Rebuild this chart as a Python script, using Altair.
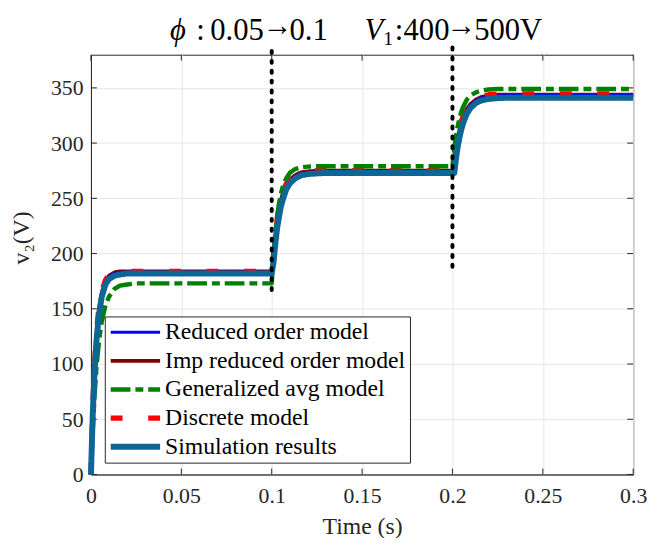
import altair as alt
import pandas as pd

# ---------------- data ----------------
time_s = [0, 0.001, 0.002, 0.003, 0.004, 0.005, 0.006, 0.008, 0.010, 0.013, 0.016, 0.020, 0.025, 0.030, 0.050, 0.075, 0.100,
          0.101, 0.102, 0.103, 0.104, 0.105, 0.106, 0.108, 0.110, 0.113, 0.116, 0.120, 0.125, 0.130, 0.150, 0.175, 0.200,
          0.201, 0.202, 0.203, 0.204, 0.205, 0.206, 0.208, 0.210, 0.213, 0.216, 0.220, 0.225, 0.230, 0.250, 0.275, 0.300]

reduced = [0, 58, 97, 124, 142, 154, 163, 174, 179, 182, 183, 183, 183, 183, 183, 183, 183,
           196, 214, 228, 238, 246, 252, 260.5, 266, 270, 272.5, 273.5, 274, 274, 274, 274, 274,
           279, 293, 303.5, 311.5, 317.5, 322.5, 329.5, 334.5, 338.5, 341, 342.3, 342.8, 343, 343, 343, 343]

imp_reduced = [0, 60, 99, 126, 144, 156, 165, 175, 180, 183, 184, 184, 184, 184, 184, 184, 184,
               198, 216, 230, 240, 248, 254, 262, 267, 271, 273.5, 274.5, 275, 275, 275, 275, 275,
               281, 295, 305, 313, 319, 324, 331, 335.5, 339.5, 341.8, 343.2, 343.8, 344, 344, 344, 344]

generalized = [0, 41, 72, 96, 114, 128, 139, 153, 161, 168, 171, 172, 173, 173, 173, 173, 173,
               199, 219, 234, 245, 253.6, 260, 268, 273, 276.5, 278, 278.7, 279, 279, 279, 279, 279,
               294.5, 306.5, 316, 323, 329, 333, 339.5, 343, 346, 347.7, 348.5, 349, 349, 349, 349, 349]

discrete = [0, 62, 101, 128, 145, 157, 166, 176, 181, 183.3, 184, 184, 184, 184, 184, 184, 184,
            199, 217, 231, 241, 249, 255, 263, 268, 272, 274, 275, 275, 275, 275, 275, 275,
            282, 296, 306, 314, 320, 325, 332, 336.5, 340.5, 342.5, 343.8, 344.2, 344.5, 344.5, 344.5, 344.5]

simulation = [0, 55, 93, 120, 138, 151, 161, 172, 177, 180, 181, 182, 182, 182, 182, 182, 182,
              192, 209, 223, 233, 242, 248, 258, 263.5, 268, 270.7, 272, 272.5, 273, 273, 273, 273,
              273, 286.6, 297.5, 306, 313, 318.5, 326.7, 331.8, 336.3, 338.6, 340, 340.7, 341, 341, 341, 341]

series_names = ["Reduced order model", "Imp reduced order model", "Generalized avg model",
                "Discrete model", "Simulation results"]
series_values = [reduced, imp_reduced, generalized, discrete, simulation]
series_colors = ["#0000FF", "#800000", "#008000", "#FF0000", "#0D6696"]

event_t = [0.1, 0.2]
event_lo = [167, 188]
event_hi = [387, 387]

x_ticks = [0, 0.05, 0.1, 0.15, 0.2, 0.25, 0.3]
y_ticks = [0, 50, 100, 150, 200, 250, 300, 350]

ann_y = 393
ann1_parts = ["\u03d5", ":", "0.05", "\u2192", "0.1"]
ann2_parts = ["V", "1", ":", "400", "\u2192", "500V"]

# ---------------- chart ----------------
FONT = "Liberation Serif"
W, H = 549, 425
INK = "#262626"

xenc = alt.X("t:Q", scale=alt.Scale(domain=[0, 0.3], nice=False, zero=False),
             axis=alt.Axis(values=x_ticks, format="~g", title="Time (s)",
                           labelFont=FONT, labelFontSize=22, titleFont=FONT, titleFontSize=24,
                           labelPadding=11, titlePadding=9))
yenc = alt.Y("v:Q", scale=alt.Scale(domain=[0, 380], nice=False, zero=False),
             axis=alt.Axis(values=y_ticks, title="v\u2082(V)", titleX=-70, titleY=185,
                           titleBaseline="middle",
                           labelFont=FONT, labelFontSize=22, titleFont=FONT, titleFontSize=24))

color_scale = alt.Scale(domain=series_names, range=series_colors)
dash_scale = alt.Scale(domain=series_names,
                       range=[[1, 0], [1, 0], [20, 5, 8, 5], [12, 26], [1, 0]])
width_scale = alt.Scale(domain=series_names, range=[3, 6, 4, 2.5, 5])

frames = {}
for name, vals in zip(series_names, series_values):
    frames[name] = pd.DataFrame({"t": time_s, "v": vals, "series": name})

draw_order = ["Imp reduced order model", "Reduced order model", "Discrete model",
              "Generalized avg model", "Simulation results"]

layers = []

# inward ticks on all four sides
xt = pd.DataFrame({"t": x_ticks})
yt = pd.DataFrame({"v": y_ticks})
tick_style = dict(color=INK, strokeWidth=1)
layers.append(alt.Chart(xt).mark_rule(**tick_style).encode(x=xenc, y=alt.value(H), y2=alt.value(H - 6)))
layers.append(alt.Chart(xt).mark_rule(**tick_style).encode(x=xenc, y=alt.value(0), y2=alt.value(6)))
layers.append(alt.Chart(yt).mark_rule(**tick_style).encode(y=yenc, x=alt.value(0), x2=alt.value(6)))
layers.append(alt.Chart(yt).mark_rule(**tick_style).encode(y=yenc, x=alt.value(W), x2=alt.value(W - 6)))

leg = alt.Legend(title=None)
for name in draw_order:
    layers.append(
        alt.Chart(frames[name]).mark_line(strokeCap="butt", strokeJoin="round").encode(
            x=xenc, y=yenc,
            color=alt.Color("series:N", scale=color_scale, legend=leg),
            strokeDash=alt.StrokeDash("series:N", scale=dash_scale, legend=leg),
            strokeWidth=alt.StrokeWidth("series:N", scale=width_scale, legend=leg),
        )
    )

# event lines (round dots)
ev = pd.DataFrame({"t": event_t, "v": event_lo, "v2": event_hi})
layers.append(
    alt.Chart(ev).mark_rule(color="black", strokeWidth=4, strokeDash=[2, 8], strokeCap="round",
                            clip=False).encode(
        x=xenc, y=yenc, y2="v2:Q"
    )
)

# annotations
def ann(text, t0, dx, align, size=31, style="normal", dy=0, weight="normal"):
    df = pd.DataFrame({"t": [t0], "v": [ann_y], "label": [text]})
    return alt.Chart(df).mark_text(
        font=FONT, fontSize=size, fontStyle=style, fontWeight=weight, align=align,
        baseline="alphabetic", dx=dx, dy=dy, color="black", clip=False
    ).encode(x=xenc, y=yenc, text="label:N")

layers += [
    ann(ann1_parts[0], event_t[0], -95, "center", style="italic"),
    ann(ann1_parts[1], event_t[0], -72, "center"),
    ann(ann1_parts[2], event_t[0], -8, "right"),
    ann(ann1_parts[3], event_t[0], 6, "center", size=30, dy=-5),
    ann(ann1_parts[4], event_t[0], 18, "left"),
    ann(ann2_parts[0], event_t[1], -70, "right", style="italic"),
    ann(ann2_parts[1], event_t[1], -70, "left", size=20, dy=5),
    ann(ann2_parts[2], event_t[1], -54, "center"),
    ann(ann2_parts[3], event_t[1], -3, "right"),
    ann(ann2_parts[4], event_t[1], 9, "center", size=30, dy=-5),
    ann(ann2_parts[5], event_t[1], 22, "left"),
]

chart = alt.layer(*layers).properties(
    width=W, height=H,
    autosize=alt.AutoSizeParams(type="none"),
    padding={"left": 84, "top": 44, "right": 16, "bottom": 61},
    background="white",
).configure_view(
    stroke=INK, strokeWidth=1
).configure_axis(
    labelFont=FONT, labelFontSize=22, labelColor=INK,
    titleFont=FONT, titleFontSize=24, titleColor=INK, titleFontWeight="normal",
    grid=True, gridColor="#e6e6e6", gridWidth=1,
    domainColor=INK, domainWidth=1,
    ticks=False, labelPadding=8, labelOverlap=False, labelFlush=False,
).configure_legend(
    orient="none", legendX=14, legendY=265,
    strokeColor=INK, fillColor="white", padding=4,
    symbolType="M-5,0H5", symbolSize=100, symbolOpacity=1, symbolOffset=15,
    labelFont=FONT, labelFontSize=24, labelColor="black", labelLimit=400,
    labelOffset=18, rowPadding=5, cornerRadius=0,
)

chart.save("out.html", embed_options={"renderer": "svg", "actions": False})
